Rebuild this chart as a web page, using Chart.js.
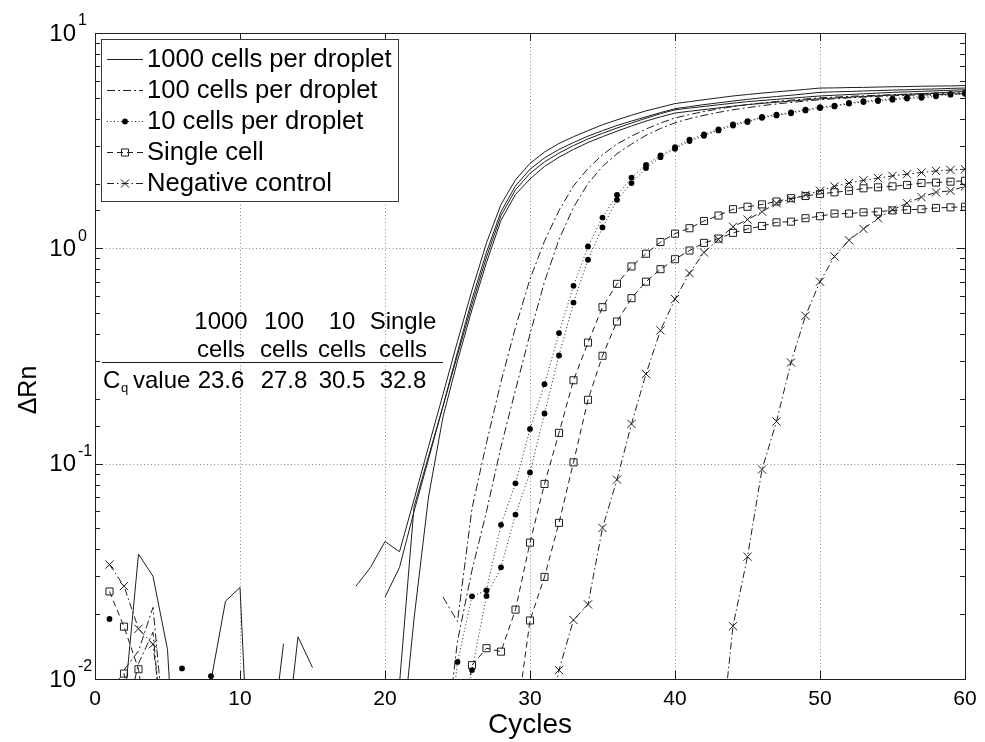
<!DOCTYPE html>
<html>
<head>
<meta charset="utf-8">
<script src="https://cdn.jsdelivr.net/npm/chart.js@4.4.1/dist/chart.umd.min.js"></script>
<style>
  html, body { margin: 0; padding: 0; background: #fff; }
</style>
</head>
<body>
<canvas id="qpcr" width="985" height="742"></canvas>
<script>
const fontFamily = "'Liberation Sans', Arial, Helvetica, sans-serif";
const ink = '#1e1e1e';

const cycles = [
  1, 2, 3, 4, 5, 6, 7, 8, 9, 10, 11, 12, 13, 14, 15, 16, 17, 18, 19, 20,
  21, 22, 23, 24, 25, 26, 27, 28, 29, 30, 31, 32, 33, 34, 35, 36, 37, 38, 39, 40,
  41, 42, 43, 44, 45, 46, 47, 48, 49, 50, 51, 52, 53, 54, 55, 56, 57, 58, 59, 60
];
const xTicks = [0, 10, 20, 30, 40, 50, 60];
const yDecades = [0.01, 0.1, 1, 10];
const yExponents = ['-2', '-1', '0', '1'];

const legendLabels = ['1000 cells per droplet', '100 cells per droplet', '10 cells per droplet', 'Single cell', 'Negative control'];
const tableHeads = [['1000', 'cells'], ['100', 'cells'], ['10', 'cells'], ['Single', 'cells']];
const cqValues = ['23.6', '27.8', '30.5', '32.8'];

// 1000 cells per droplet, four wells (null = negative, not drawn on log axis)
const cells1000A = [
  null, 0.0074, 0.038, 0.030, 0.0137, 0.001, null, null, null, null,
  null, null, null, null, null, null, null, 0.027, 0.033, 0.0435,
  0.039, 0.068, 0.12, 0.21, 0.37, 0.64, 1.06, 1.6, 2.08, 2.48,
  2.8, 3.07, 3.3, 3.52, 3.75, 3.95, 4.15, 4.35, 4.52, 4.7,
  4.8, 4.9, 5.0, 5.1, 5.18, 5.26, 5.33, 5.4, 5.47, 5.55,
  5.56, 5.58, 5.59, 5.61, 5.63, 5.64, 5.66, 5.67, 5.68, 5.7
];
const cells1000B = [
  null, null, null, null, null, null, null, 0.0098, 0.023, 0.0266,
  0.001, null, null, null, null, null, null, null, null, 0.024,
  0.033, 0.06, 0.105, 0.185, 0.33, 0.58, 0.96, 1.48, 1.95, 2.33,
  2.63, 2.88, 3.1, 3.32, 3.52, 3.72, 3.9, 4.08, 4.27, 4.45,
  4.55, 4.65, 4.74, 4.83, 4.92, 5.0, 5.07, 5.14, 5.22, 5.3,
  5.33, 5.35, 5.38, 5.4, 5.43, 5.45, 5.48, 5.5, 5.53, 5.55
];
const cells1000C = [
  null, null, null, null, null, null, null, null, null, null,
  null, 0.004, 0.0146, null, null, null, null, null, null, null,
  0.0095, 0.063, 0.108, 0.185, 0.32, 0.55, 0.91, 1.42, 1.87, 2.23,
  2.52, 2.77, 3.0, 3.22, 3.42, 3.62, 3.82, 4.02, 4.22, 4.4,
  4.48, 4.56, 4.64, 4.72, 4.8, 4.86, 4.92, 4.98, 5.04, 5.1,
  5.14, 5.18, 5.22, 5.26, 5.3, 5.33, 5.36, 5.39, 5.42, 5.45
];
const cells1000D = [
  null, null, null, null, null, null, null, null, null, null,
  null, null, 0.004, 0.0157, 0.0113, null, null, null, null, null,
  0.004, 0.019, 0.07, 0.165, 0.3, 0.52, 0.86, 1.35, 1.78, 2.1,
  2.4, 2.65, 2.88, 3.1, 3.3, 3.5, 3.7, 3.9, 4.08, 4.25,
  4.33, 4.41, 4.49, 4.57, 4.65, 4.71, 4.77, 4.83, 4.89, 4.95,
  4.99, 5.03, 5.07, 5.11, 5.15, 5.19, 5.23, 5.27, 5.31, 5.35
];

// 100 cells per droplet
const cells100A = [
  null, 0.011, 0.0135, 0.0215, 0.004, null, null, null, null, null,
  null, null, null, null, null, null, null, null, null, null,
  null, null, null, 0.024, 0.0185, 0.062, 0.125, 0.24, 0.43, 0.72,
  1.08, 1.5, 1.95, 2.35, 2.72, 3.05, 3.32, 3.58, 3.82, 4.03,
  4.18, 4.32, 4.44, 4.55, 4.65, 4.73, 4.81, 4.88, 4.94, 5.0,
  5.04, 5.08, 5.11, 5.14, 5.17, 5.2, 5.22, 5.24, 5.26, 5.28
];
const cells100B = [
  null, 0.006, 0.0118, 0.0165, 0.003, null, null, null, null, null,
  null, null, null, null, null, null, null, null, null, null,
  null, null, null, 0.004, 0.015, 0.032, 0.06, 0.12, 0.22, 0.4,
  0.7, 1.1, 1.55, 2.0, 2.4, 2.75, 3.05, 3.35, 3.6, 3.83,
  4.0, 4.15, 4.28, 4.4, 4.5, 4.6, 4.68, 4.76, 4.83, 4.9,
  4.95, 5.0, 5.04, 5.08, 5.11, 5.14, 5.16, 5.18, 5.2, 5.22
];

// 10 cells per droplet
const cells10A = [
  0.019, null, null, null, null, 0.0112, null, null, null, null,
  null, null, null, null, null, null, null, null, null, null,
  null, null, null, 0.003, 0.012, 0.0242, 0.0258, 0.052, 0.081, 0.145,
  0.234, 0.404, 0.67, 1.02, 1.39, 1.77, 2.13, 2.44, 2.7, 2.95,
  3.2, 3.38, 3.57, 3.76, 3.9, 4.08, 4.18, 4.28, 4.41, 4.52,
  4.6, 4.73, 4.82, 4.88, 4.95, 5.02, 5.07, 5.15, 5.22, 5.28
];
const cells10B = [
  null, null, null, null, null, null, null, 0.0103, null, null,
  null, null, null, null, null, null, null, null, null, null,
  null, null, null, null, 0.004, 0.011, 0.0243, 0.033, 0.058, 0.091,
  0.171, 0.318, 0.56, 0.885, 1.25, 1.68, 2.01, 2.36, 2.65, 2.9,
  3.15, 3.33, 3.53, 3.72, 3.86, 4.04, 4.14, 4.24, 4.37, 4.48,
  4.56, 4.7, 4.78, 4.83, 4.9, 4.96, 5.0, 5.08, 5.17, 5.22
];

// single cell
const singleA = [
  0.0255, 0.0175, 0.0111, 0.004, null, null, null, null, null, null,
  null, null, null, null, null, null, null, null, null, null,
  null, null, null, null, 0.005, 0.0116, 0.0139, 0.0134, 0.021, 0.043,
  0.0805, 0.139, 0.244, 0.365, 0.533, 0.684, 0.824, 0.944, 1.07, 1.17,
  1.24, 1.34, 1.42, 1.52, 1.56, 1.6, 1.65, 1.71, 1.75, 1.79,
  1.82, 1.85, 1.9, 1.92, 1.94, 1.97, 2.01, 2.02, 2.04, 2.06
];
const singleB = [
  0.009, 0.0106, 0.005, null, null, null, null, null, null, null,
  null, null, null, null, null, null, null, null, null, null,
  null, null, null, null, null, null, null, null, 0.006, 0.0187,
  0.0298, 0.0531, 0.1014, 0.198, 0.317, 0.457, 0.587, 0.70, 0.80, 0.89,
  0.977, 1.06, 1.11, 1.18, 1.23, 1.27, 1.32, 1.33, 1.38, 1.41,
  1.45, 1.45, 1.47, 1.48, 1.5, 1.51, 1.52, 1.54, 1.55, 1.56
];

// negative control
const negativeA = [
  0.034, 0.027, 0.0171, 0.0145, 0.004, null, null, null, null, null,
  null, null, null, null, null, null, null, null, null, null,
  null, null, null, null, null, null, null, null, null, null,
  0.005, 0.011, 0.0188, 0.0222, 0.0503, 0.0843, 0.153, 0.261, 0.416, 0.581,
  0.767, 0.957, 1.1, 1.26, 1.36, 1.48, 1.62, 1.69, 1.77, 1.85,
  1.94, 2.01, 2.07, 2.12, 2.17, 2.21, 2.25, 2.29, 2.31, 2.33
];
const negativeB = [
  null, null, null, null, null, null, null, null, null, null,
  null, null, null, null, null, null, null, null, null, null,
  null, null, null, null, null, null, null, null, null, null,
  null, null, null, null, null, null, null, null, null, null,
  null, null, 0.004, 0.0176, 0.037, 0.094, 0.157, 0.295, 0.486, 0.7,
  0.917, 1.09, 1.23, 1.38, 1.51, 1.62, 1.73, 1.82, 1.85, 1.94
];

const looks = {
  c1000: { dash: [], marker: null, radius: 0 },
  c100: { dash: [8, 3, 2, 3], marker: null, radius: 0 },
  c10: { dash: [1, 2.5], marker: 'circle', radius: 2.9, fill: '#000', edge: 0 },
  single: { dash: [6, 4], marker: 'rect', radius: 5, fill: 'rgba(0,0,0,0)', edge: 1 },
  neg: { dash: [7, 3, 1.5, 3], marker: 'crossRot', radius: 5.8, fill: 'rgba(0,0,0,0)', edge: 1 }
};
const legendLooks = [looks.c1000, looks.c100, looks.c10, looks.single, looks.neg];

function makeDataset(label, values, look) {
    return {
        label: label,
        data: cycles.map((c, i) => ({ x: c, y: values[i] })),
        borderColor: ink,
        borderWidth: 1,
        borderDash: look.dash,
        tension: 0,
        spanGaps: false,
        pointStyle: look.marker || 'circle',
        pointRadius: look.marker ? look.radius : 0,
        pointHoverRadius: 0,
        pointBackgroundColor: look.fill || ink,
        pointBorderColor: ink,
        pointBorderWidth: look.edge || 0
    };
}

function strokeLine(ctx, x0, y0, x1, y1) {
    ctx.beginPath();
    ctx.moveTo(x0, y0);
    ctx.lineTo(x1, y1);
    ctx.stroke();
}

const frame = {
    id: 'frame',
    beforeDatasetsDraw(chart) {
        const { ctx, chartArea: a, scales: { x, y } } = chart;
        ctx.save();
        ctx.strokeStyle = '#8a8a8a';
        ctx.lineWidth = 1;
        ctx.setLineDash([1, 2.5]);
        xTicks.forEach(v => {
            if (v === 0 || v === 60) return;
            const px = Math.round(x.getPixelForValue(v)) + 0.5;
            strokeLine(ctx, px, a.top, px, a.bottom);
        });
        yDecades.forEach(v => {
            if (v === 0.01 || v === 10) return;
            const py = Math.round(y.getPixelForValue(v)) + 0.5;
            strokeLine(ctx, a.left, py, a.right, py);
        });
        ctx.restore();
    },
    afterDatasetsDraw(chart) {
        const { ctx, chartArea: a, scales: { x, y } } = chart;
        ctx.save();
        ctx.strokeStyle = ink;
        ctx.fillStyle = '#000';
        ctx.lineWidth = 1;
        ctx.setLineDash([]);

        // box
        ctx.strokeRect(Math.round(a.left) + 0.5, Math.round(a.top) + 0.5,
            Math.round(a.right - a.left), Math.round(a.bottom - a.top));

        // tick marks, inside on all four sides
        xTicks.forEach(v => {
            const px = Math.round(x.getPixelForValue(v)) + 0.5;
            strokeLine(ctx, px, a.bottom, px, a.bottom - 8);
            strokeLine(ctx, px, a.top, px, a.top + 8);
        });
        y.ticks.forEach(t => {
            const lg = Math.log10(t.value);
            const major = Math.abs(lg - Math.round(lg)) < 1e-6;
            const len = major ? 8 : 5;
            const py = Math.round(y.getPixelForValue(t.value)) + 0.5;
            strokeLine(ctx, a.left, py, a.left + len, py);
            strokeLine(ctx, a.right, py, a.right - len, py);
        });

        // y tick labels 10^n
        yDecades.forEach((v, i) => {
            const py = y.getPixelForValue(v);
            ctx.font = `24px ${fontFamily}`;
            ctx.textAlign = 'right';
            ctx.textBaseline = 'middle';
            ctx.fillText('10', 76, py + 1);
            ctx.font = `16px ${fontFamily}`;
            ctx.textAlign = 'left';
            ctx.fillText(yExponents[i], 78, py - 12);
        });

        // y axis title
        ctx.save();
        ctx.translate(29, 390);
        ctx.rotate(-Math.PI / 2);
        ctx.font = `25px ${fontFamily}`;
        ctx.textAlign = 'center';
        ctx.textBaseline = 'middle';
        ctx.fillText('\u0394Rn', 0, 0);
        ctx.restore();

        // Cq table
        const colX = [221, 284, 342, 403];
        ctx.font = `24px ${fontFamily}`;
        ctx.textAlign = 'center';
        ctx.textBaseline = 'middle';
        tableHeads.forEach((h, i) => {
            ctx.fillText(h[0], colX[i], 322);
            ctx.fillText(h[1], colX[i], 350);
        });
        cqValues.forEach((v, i) => ctx.fillText(v, colX[i], 381));
        strokeLine(ctx, 102, 362.5, 443, 362.5);
        ctx.textAlign = 'left';
        ctx.fillText('C', 103, 381);
        ctx.font = `13px ${fontFamily}`;
        ctx.fillText('q', 121, 388);
        ctx.font = `24px ${fontFamily}`;
        ctx.fillText('value', 133, 381);

        // legend
        const box = { left: 101, top: 39, right: 398, bottom: 201 };
        ctx.fillStyle = '#fff';
        ctx.fillRect(box.left, box.top, box.right - box.left, box.bottom - box.top);
        ctx.strokeStyle = '#3a3a3a';
        ctx.strokeRect(box.left + 0.5, box.top + 0.5, box.right - box.left, box.bottom - box.top);
        legendLabels.forEach((label, i) => {
            const ly = 59 + i * 31;
            const look = legendLooks[i];
            ctx.strokeStyle = ink;
            ctx.setLineDash(look.dash);
            strokeLine(ctx, 107, ly + 0.5, 143, ly + 0.5);
            ctx.setLineDash([]);
            if (look.marker) {
                ctx.fillStyle = look.fill;
                Chart.helpers.drawPoint(ctx, {
                    pointStyle: look.marker,
                    radius: look.radius,
                    borderWidth: look.edge,
                    rotation: 0
                }, 125, ly + 0.5);
            }
            ctx.fillStyle = '#000';
            ctx.font = `25.6px ${fontFamily}`;
            ctx.textAlign = 'left';
            ctx.textBaseline = 'middle';
            ctx.fillText(label, 147, ly + 1);
        });
        ctx.restore();
    }
};

const datasets = [
    makeDataset('1000 cells per droplet', cells1000A, looks.c1000),
    makeDataset('1000 cells per droplet', cells1000B, looks.c1000),
    makeDataset('1000 cells per droplet', cells1000C, looks.c1000),
    makeDataset('1000 cells per droplet', cells1000D, looks.c1000),
    makeDataset('100 cells per droplet', cells100A, looks.c100),
    makeDataset('100 cells per droplet', cells100B, looks.c100),
    makeDataset('10 cells per droplet', cells10A, looks.c10),
    makeDataset('10 cells per droplet', cells10B, looks.c10),
    makeDataset('Single cell', singleA, looks.single),
    makeDataset('Single cell', singleB, looks.single),
    makeDataset('Negative control', negativeA, looks.neg),
    makeDataset('Negative control', negativeB, looks.neg)
];

new Chart(document.getElementById('qpcr'), {
    type: 'line',
    data: { datasets: datasets },
    plugins: [frame],
    options: {
        responsive: false,
        animation: false,
        devicePixelRatio: 1,
        layout: { padding: { top: 33, right: 20, left: 0, bottom: 0 } },
        plugins: {
            legend: { display: false },
            tooltip: { enabled: false }
        },
        scales: {
            x: {
                type: 'linear',
                min: 0,
                max: 60,
                grid: { display: false, drawTicks: false },
                border: { display: false },
                afterBuildTicks: s => { s.ticks = xTicks.map(v => ({ value: v })); },
                afterFit: s => { s.height = 63; },
                ticks: {
                    color: '#000',
                    font: { size: 21, family: fontFamily },
                    padding: 8,
                    maxRotation: 0,
                    autoSkip: false
                },
                title: {
                    display: true,
                    text: 'Cycles',
                    color: '#000',
                    font: { size: 28, family: fontFamily },
                    padding: { top: 0, bottom: 0 }
                }
            },
            y: {
                type: 'logarithmic',
                min: 0.01,
                max: 10,
                grid: { display: false, drawTicks: false },
                border: { display: false },
                ticks: { display: false },
                afterFit: s => { s.width = 95; }
            }
        }
    }
});
</script>
</body>
</html>
